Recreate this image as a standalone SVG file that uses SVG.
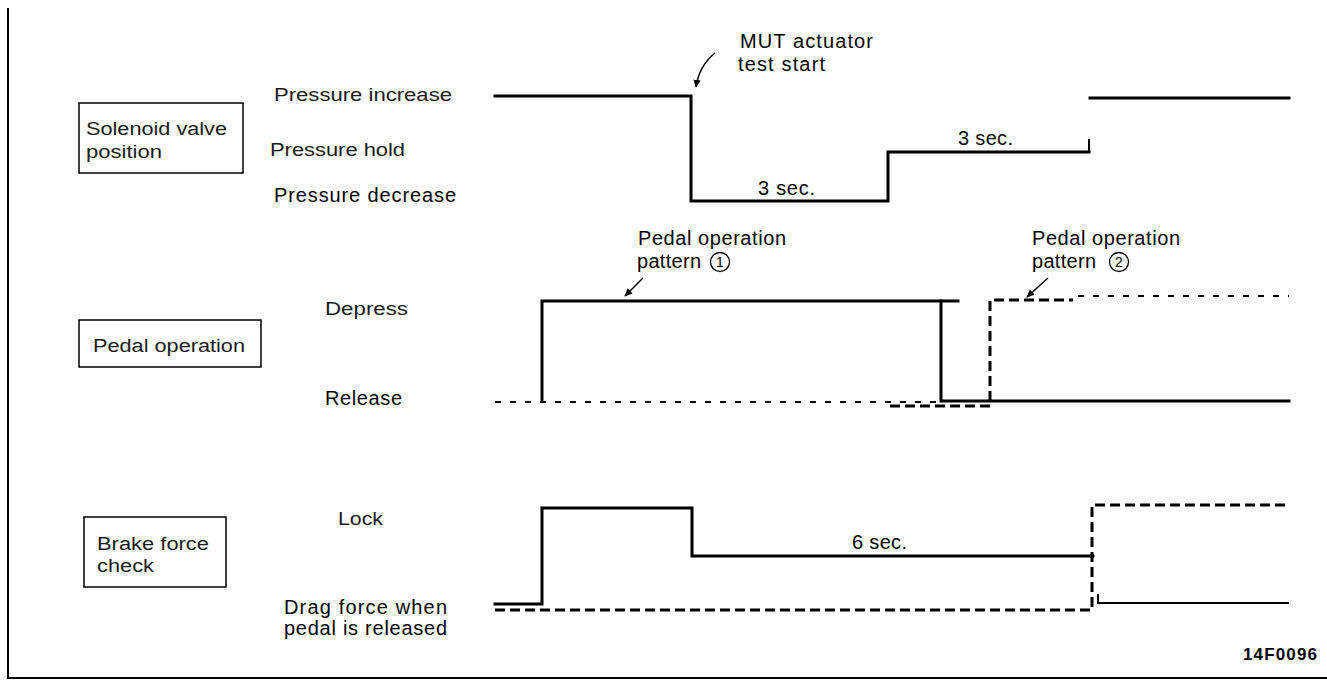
<svg xmlns="http://www.w3.org/2000/svg" width="1327" height="680" viewBox="0 0 1327 680">
<defs>
<marker id="ah" viewBox="0 0 10 10" refX="9" refY="5" markerWidth="8" markerHeight="8" markerUnits="userSpaceOnUse" orient="auto"><path d="M0,0.5 L10,5 L0,9.5 z" fill="#000"/></marker>
</defs>
<style>
.t{font-family:"Liberation Sans",Arial,sans-serif;font-size:20px;fill:#000}
.l{font-family:"Liberation Sans",Arial,sans-serif;font-size:18px;fill:#1a1a1a}
.code{font-family:"Liberation Sans",Arial,sans-serif;font-size:17px;font-weight:bold;fill:#000}
.num{font-family:"Liberation Sans",Arial,sans-serif;font-size:14px;fill:#000;text-anchor:middle}
.box{fill:none;stroke:#000;stroke-width:1.5}
.frame{fill:none;stroke:#000;stroke-width:2}
.w{fill:none;stroke:#000;stroke-width:3;stroke-linecap:square}
.wt{fill:none;stroke:#000;stroke-width:2}
.d1{fill:none;stroke:#000;stroke-width:2;stroke-dasharray:6 9}
.d2{fill:none;stroke:#000;stroke-width:3;stroke-dasharray:10 5}
.ptr{fill:none;stroke:#000;stroke-width:1.5}
.circ{fill:none;stroke:#000;stroke-width:1.3}
</style>
<rect width="1327" height="680" fill="#fff"/>
<path class="frame" d="M8,8 V678 H1327"/>

<g id="solenoid-box">
<rect class="box" x="79" y="103" width="164" height="70"/>
<text class="l" x="86" y="135" textLength="141" lengthAdjust="spacingAndGlyphs">Solenoid valve</text>
<text class="l" x="86" y="158" textLength="76" lengthAdjust="spacingAndGlyphs">position</text>
</g>
<g id="solenoid-levels">
<text class="l" x="274" y="101" textLength="178" lengthAdjust="spacingAndGlyphs">Pressure increase</text>
<text class="l" x="270" y="156" textLength="135" lengthAdjust="spacingAndGlyphs">Pressure hold</text>
<text class="t" x="274" y="202" textLength="182">Pressure  decrease</text>
</g>
<g id="solenoid-wave">
<path class="w" d="M495,96 H691 V201 H888 V152 H1089"/>
<path class="wt" d="M1089,139 V152"/>
<path class="w" d="M1090,98 H1289"/>
<text class="t" x="758" y="195" textLength="57">3 sec.</text>
<text class="t" x="958" y="145" textLength="55">3 sec.</text>
</g>
<g id="mut-label">
<text class="t" x="740" y="48" textLength="133">MUT  actuator</text>
<text class="t" x="738" y="71" textLength="87">test  start</text>
</g>

<g id="pedal-box">
<rect class="box" x="79" y="320" width="182" height="47"/>
<text class="l" x="93" y="352" textLength="152" lengthAdjust="spacingAndGlyphs">Pedal operation</text>
</g>
<g id="pedal-levels">
<text class="l" x="325" y="315" textLength="83" lengthAdjust="spacingAndGlyphs">Depress</text>
<text class="t" x="325" y="405" textLength="77">Release</text>
</g>
<g id="pedal-wave">
<path class="d1" d="M495,402 H941"/>
<path class="w" d="M542,401 V301 H958"/>
<path class="w" d="M941,301 V401 H1289"/>
<path class="d2" d="M890,406 H990 V300 H1073"/>
<path class="d1" d="M1078,296 H1289"/>
</g>
<g id="pattern1-label">
<text class="t" x="638" y="245" textLength="148">Pedal  operation</text>
<text class="t" x="637" y="268" textLength="64">pattern</text>
<circle class="circ" cx="720" cy="262" r="9.5"/>
<text class="num" x="720" y="267">1</text>
</g>
<g id="pattern2-label">
<text class="t" x="1032" y="245" textLength="148">Pedal  operation</text>
<text class="t" x="1032" y="268" textLength="64">pattern</text>
<circle class="circ" cx="1119" cy="262" r="9.5"/>
<text class="num" x="1119" y="267">2</text>
</g>

<g id="brake-box">
<rect class="box" x="84" y="517" width="142" height="70"/>
<text class="l" x="97" y="550" textLength="112" lengthAdjust="spacingAndGlyphs">Brake force</text>
<text class="l" x="97" y="572" textLength="57" lengthAdjust="spacingAndGlyphs">check</text>
</g>
<g id="brake-levels">
<text class="l" x="338" y="525" textLength="45" lengthAdjust="spacingAndGlyphs">Lock</text>
<text class="t" x="284" y="614" textLength="163">Drag  force  when</text>
<text class="t" x="284" y="635" textLength="163">pedal  is  released</text>
</g>
<g id="brake-wave">
<path class="w" d="M495,604 H542 V508 H692 V556 H1092"/>
<circle cx="1092" cy="556" r="2.5" fill="#000"/>
<path class="wt" d="M1098,594 V603 H1289"/>
<path class="d2" d="M495,610 H1092 V505 H1289"/>
<text class="t" x="852" y="549" textLength="55">6 sec.</text>
</g>

<g id="connectors">
<path class="ptr" d="M715,53 Q699,66 696,87" marker-end="url(#ah)"/>
<path class="ptr" d="M643,278 L625,296" marker-end="url(#ah)"/>
<path class="ptr" d="M1048,278 L1027,297" marker-end="url(#ah)"/>
</g>

<text class="code" x="1243" y="660" textLength="74">14F0096</text>
</svg>
